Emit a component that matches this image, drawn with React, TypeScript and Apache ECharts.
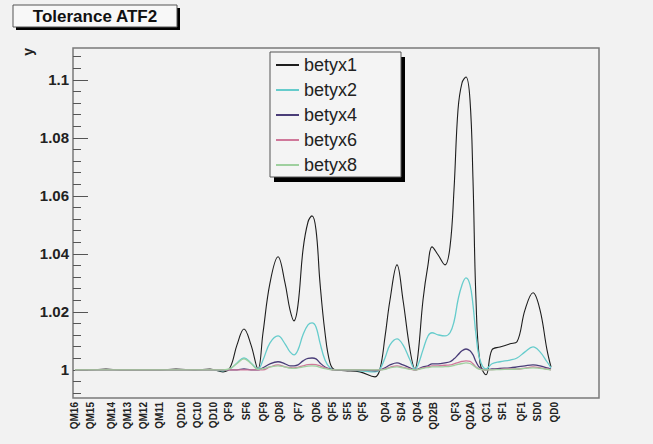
import React, { useEffect, useRef } from "react";
import * as echarts from "echarts";

// positions along the beamline (axis units) of the element labels
const labelNames = [
  "QM16", "QM15", "QM14", "QM13", "QM12", "QM11", "QD10", "QC10", "QD10", "QF9",
  "SF6", "QF9", "QD8", "QF7", "QD6", "QF5", "SF5", "QF5", "QD4", "SD4",
  "QD4", "QD2B", "QF3", "QD2A", "QC1", "SF1", "QF1", "SD0", "QD0",
];
const labelPos = [
  1, 17, 38, 54, 70, 86, 108, 124, 140, 155,
  173, 190, 206, 225, 243, 259, 274, 289, 312, 328,
  344, 360, 382, 397, 413, 429, 448, 464, 481,
];

// sample positions of the curves
const sPos = [
  2, 17, 33, 47, 67, 87, 103, 122, 137, 150,
  157, 164, 171, 178, 185, 190, 197, 205, 212, 217,
  221, 225, 230, 235, 239, 243, 247, 252, 257, 262,
  272, 287, 302, 307, 312, 317, 324, 330, 337, 342,
  345, 350, 355, 359, 365, 372, 377, 381, 385, 389,
  393, 397, 400, 403, 407, 413, 419, 427, 437, 444,
  452, 460, 467, 474, 478,
];

const betyx1 = [
  1, 1, 1.0003, 1, 1, 1, 1.0003, 1, 1.0003, 0.9993,
  1.0007, 1.0086, 1.0141, 1.0086, 1.0003, 1.0128, 1.03, 1.039, 1.03, 1.0207,
  1.0169, 1.0224, 1.0414, 1.051, 1.0531, 1.0483, 1.03, 1.0128, 1.0024, 1,
  0.9997, 0.9993, 0.9976, 1.0003, 1.0114, 1.0241, 1.0362, 1.0241, 1.0069, 1.0003,
  1.0052, 1.0241, 1.0362, 1.0424, 1.0397, 1.0362, 1.0424, 1.0621, 1.0897, 1.099,
  1.101, 1.0931, 1.0655, 1.0241, 1.0024, 0.9983, 1.0069, 1.0079, 1.009, 1.0097,
  1.0207, 1.0266, 1.0207, 1.0069, 1.001,
];
const betyx2 = [
  1, 1, 1, 1, 1, 1, 1, 1, 1, 0.9997,
  1.0003, 1.0024, 1.0041, 1.0024, 1.0003, 1.0034, 1.0093, 1.0117, 1.009, 1.0062,
  1.0052, 1.0069, 1.0121, 1.0155, 1.0162, 1.0148, 1.0093, 1.0034, 1.0007, 1,
  1, 0.9997, 0.9993, 1.0003, 1.0041, 1.0086, 1.0107, 1.0086, 1.0034, 1.0003,
  1.0017, 1.0069, 1.0117, 1.0128, 1.0121, 1.0117, 1.0128, 1.0166, 1.0241, 1.0293,
  1.0317, 1.0293, 1.0224, 1.0121, 1.0034, 1.0003, 1.0021, 1.0028, 1.0034, 1.0041,
  1.0062, 1.0079, 1.0062, 1.0028, 1.0007,
];
const betyx4 = [
  1, 1, 1, 1, 1, 1, 1, 1, 1, 1,
  1, 1, 1.0003, 1, 1, 1.0007, 1.0021, 1.0028, 1.0021, 1.0014,
  1.0014, 1.0017, 1.0031, 1.004, 1.0041, 1.0038, 1.0024, 1.001, 1.0003, 1,
  1, 1, 0.9997, 1, 1.0007, 1.0017, 1.0024, 1.0017, 1.0007, 1,
  1.0003, 1.001, 1.0014, 1.0021, 1.0021, 1.0024, 1.0028, 1.0038, 1.0052, 1.0066,
  1.0072, 1.0066, 1.0052, 1.0028, 1.0007, 1, 1.0003, 1.0005, 1.0007, 1.001,
  1.0014, 1.0017, 1.0014, 1.0007, 1.0003,
];
const betyx6 = [
  1, 1, 1, 1, 1, 1, 1, 1, 1, 1,
  1, 1, 1, 1, 1, 1, 1.001, 1.0017, 1.001, 1.0008,
  1.0007, 1.0009, 1.0014, 1.0018, 1.0019, 1.0018, 1.0014, 1.0007, 1.0002, 1,
  1, 1, 1, 1, 1.0003, 1.0009, 1.0014, 1.0009, 1.0003, 1,
  1.0002, 1.0007, 1.001, 1.0014, 1.0014, 1.0016, 1.0017, 1.0021, 1.0025, 1.0029,
  1.0031, 1.0029, 1.0021, 1.001, 1.0003, 1, 1.0001, 1.0002, 1.0003, 1.0003,
  1.0006, 1.001, 1.0007, 1.0003, 1,
];
const betyx8 = [
  1, 1, 1, 1, 1, 1, 1, 1, 1, 1,
  1.0004, 1.0022, 1.0038, 1.0022, 1.0002, 1.0004, 1.001, 1.0014, 1.001, 1.0006,
  1.0005, 1.0007, 1.001, 1.0013, 1.0014, 1.0013, 1.0009, 1.0004, 1.0001, 1,
  1, 1, 1, 1, 1.0002, 1.0007, 1.001, 1.0007, 1.0002, 1,
  1.0001, 1.0005, 1.0008, 1.001, 1.001, 1.0011, 1.0012, 1.0015, 1.0019, 1.0022,
  1.0024, 1.0022, 1.0016, 1.0008, 1.0002, 1, 1, 1.0001, 1.0002, 1.0003,
  1.0005, 1.0007, 1.0005, 1.0002, 1,
];

const seriesNames = ["betyx1", "betyx2", "betyx4", "betyx6", "betyx8"];
const seriesValues = [betyx1, betyx2, betyx4, betyx6, betyx8];
const seriesColors = ["#1e1e1e", "#66cccc", "#4a3d78", "#d0789a", "#9fd09f"];

const yMajor = [1, 1.02, 1.04, 1.06, 1.08, 1.1];
const yMinor = [
  0.992, 0.996, 1.004, 1.008, 1.012, 1.016, 1.024, 1.028, 1.032, 1.036,
  1.044, 1.048, 1.052, 1.056, 1.064, 1.068, 1.072, 1.076, 1.084, 1.088,
  1.092, 1.096, 1.104, 1.108,
];
const yMin = 0.9903;
const yMax = 1.111;
const xMin = 0;
const xMax = 526;

const FONT = "'Liberation Sans', Arial, Helvetica, sans-serif";

export default function App() {
  const ref = useRef<HTMLDivElement>(null);
  useEffect(() => {
    if (!ref.current) return;
    const chart = echarts.init(ref.current, undefined, { renderer: "svg" });
    const option: any = {
      animation: false,
      backgroundColor: "#f2f2f2",
      textStyle: { fontFamily: FONT },
      grid: {
        left: 73, top: 48, width: 526, height: 350,
        show: true, borderColor: "#7a7a7a", borderWidth: 1.5, backgroundColor: "transparent",
      },
      xAxis: {
        type: "value", min: xMin, max: xMax,
        axisLine: { show: false },
        axisTick: { show: false },
        splitLine: { show: false },
        axisLabel: {
          customValues: labelPos,
          rotate: 90,
          margin: 4,
          fontSize: 10,
          fontWeight: "bold",
          color: "#222",
          fontFamily: FONT,
          formatter: (v: number) => {
            const i = labelPos.indexOf(v);
            return i >= 0 ? labelNames[i] : "";
          },
        },
      },
      yAxis: [
        {
          type: "value", min: yMin, max: yMax,
          axisLine: { show: false },
          splitLine: { show: false },
          axisTick: { show: true, inside: true, length: 15, customValues: yMajor, lineStyle: { color: "#555", width: 1 } },
          axisLabel: {
            customValues: yMajor, margin: 4, fontSize: 15, fontWeight: "bold", color: "#222", fontFamily: FONT,
            formatter: (v: number) => String(Math.round(v * 100) / 100),
          },
        },
        {
          type: "value", min: yMin, max: yMax, position: "left",
          axisLine: { show: false },
          splitLine: { show: false },
          axisLabel: { show: false },
          axisTick: { show: true, inside: true, length: 8, customValues: yMinor, lineStyle: { color: "#555", width: 1 } },
        },
      ],
      legend: {
        orient: "vertical", left: 275, top: 56, padding: 0,
        itemWidth: 23, itemHeight: 18, itemGap: 7, z: 10,
        data: seriesNames,
        itemStyle: { opacity: 0 },
        textStyle: { fontSize: 18, color: "#222", fontFamily: FONT },
      },
      graphic: [
        { type: "rect", z: 5, shape: { x: 16, y: 8, width: 164, height: 22 }, style: { fill: "#000" } },
        { type: "rect", z: 6, shape: { x: 13, y: 5, width: 164, height: 22 }, style: { fill: "#f8f8f8", stroke: "#555", lineWidth: 1 } },
        {
          type: "text", z: 7, x: 95, y: 16,
          style: { text: "Tolerance ATF2", font: `bold 17px ${FONT}`, fill: "#111", align: "center", verticalAlign: "middle" },
        },
        { type: "rect", z: 5, shape: { x: 274, y: 57, width: 131, height: 125 }, style: { fill: "#000" } },
        { type: "rect", z: 6, shape: { x: 270, y: 52, width: 131, height: 125 }, style: { fill: "#f4f4f4", stroke: "#555", lineWidth: 1 } },
        {
          type: "text", z: 7, x: 28, y: 48, rotation: Math.PI / 2,
          style: { text: "y", font: `bold 14px ${FONT}`, fill: "#222", align: "right", verticalAlign: "middle" },
        },
      ],
      series: seriesNames.map((name, k) => ({
        name,
        type: "line",
        smooth: 0.4,
        symbol: "none",
        color: seriesColors[k],
        lineStyle: { width: k === 0 ? 1.1 : 1.3, color: seriesColors[k] },
        data: sPos.map((s, i) => [s, seriesValues[k][i]]),
      })),
    };
    chart.setOption(option);
    return () => chart.dispose();
  }, []);
  return (
    <div
      ref={ref}
      style={{ position: "fixed", left: 0, top: 0, width: 653, height: 444, background: "#f2f2f2" }}
    />
  );
}
